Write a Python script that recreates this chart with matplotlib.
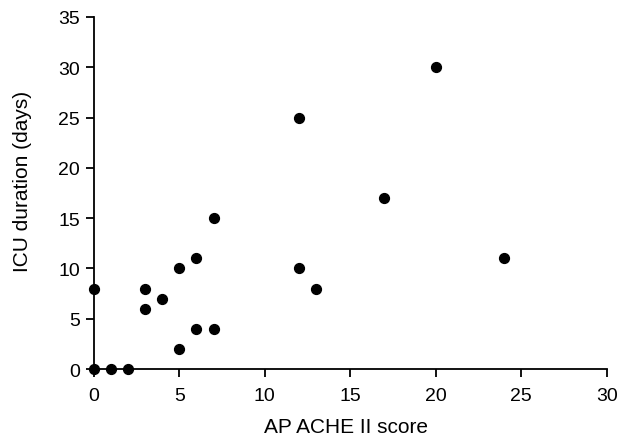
import matplotlib
matplotlib.use('Agg')
import matplotlib.pyplot as plt

plt.rcParams['font.family'] = ['Liberation Sans', 'DejaVu Sans']

apache_score = [0, 1, 2, 0, 3, 3, 4, 5, 5, 6, 6, 7, 7, 12, 12, 13, 17, 20, 24]
icu_days = [0, 0, 0, 8, 8, 6, 7, 10, 2, 11, 4, 4, 15, 25, 10, 8, 17, 30, 11]

fig = plt.figure(figsize=(6.34, 4.39), dpi=100)
ax = fig.add_axes([0.148, 0.157, 0.809, 0.802])

ax.scatter(apache_score, icu_days, s=50, color='black', zorder=3, clip_on=False)

ax.set_xlim(0, 30)
ax.set_ylim(0, 35)
ax.set_xticks(range(0, 31, 5))
ax.set_yticks(range(0, 36, 5))
ax.spines['top'].set_visible(False)
ax.spines['right'].set_visible(False)
ax.spines['left'].set_linewidth(1.3)
ax.spines['bottom'].set_linewidth(1.3)
ax.tick_params(direction='out', length=6, width=1.3, labelsize=14)
ax.tick_params(axis='x', pad=7)
ax.tick_params(axis='y', pad=4)

ax.set_xlabel('AP ACHE II score', fontsize=15, va='center')
ax.set_ylabel('ICU duration (days)', fontsize=15, va='center')
ax.xaxis.set_label_coords(0.491, -0.162)
ax.yaxis.set_label_coords(-0.140, 0.537)

fig.savefig('out.png', dpi=100)
